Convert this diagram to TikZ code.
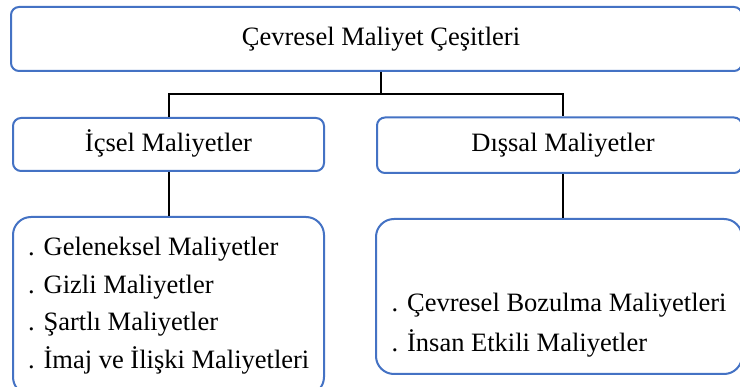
\documentclass[tikz,border=0pt]{standalone}
\usepackage{fontspec}
\setmainfont{Liberation Serif}
\definecolor{boxblue}{HTML}{4472C4}
\tikzset{
  box/.style={draw=boxblue, line width=2pt, fill=white, rounded corners=#1, inner sep=0pt},
  box/.default=8pt,
  txt/.style={inner sep=0pt, font=\fontsize{26.5}{32}\selectfont},
  lst/.style={inner sep=0pt, align=left, anchor=base west},
  conn/.style={draw=black, line width=2pt}
}
\begin{document}
\begin{tikzpicture}[x=1pt,y=1pt]
\clip (0,0) rectangle (740,-387);
\fill[white] (0,0) rectangle (740,-387);
% boxes
\node[box, minimum width=731pt, minimum height=64pt] (top) at (376.5,-39) {};
\node[box, minimum width=311pt, minimum height=53pt] (ic) at (168.5,-144.5) {};
\node[box, minimum width=365pt, minimum height=55.5pt] (ds) at (559.5,-145.25) {};
\node[box=18pt, minimum width=311pt, minimum height=178pt] (bl) at (168.5,-306) {};
\node[box=18pt, minimum width=366pt, minimum height=155pt] (br) at (559,-296.5) {};
% texts
\node[txt] (toptext) at (381,-39) {Çevresel Maliyet Çeşitleri};
\node[txt, anchor=base] (ictext) at (168.5,-151.7) {İçsel Maliyetler};
\node[txt, anchor=base] (dstext) at (563,-151.7) {Dışsal Maliyetler};
\node[txt, lst, font=\fontsize{26.5}{37.6}\selectfont] (bltext) at (28,-368.5)
  {. Geleneksel Maliyetler\\. Gizli Maliyetler\\. Şartlı Maliyetler\\. İmaj ve İlişki Maliyetleri};
\node[txt, lst, font=\fontsize{26.5}{40}\selectfont] (brtext) at (391.5,-351.7)
  {. Çevresel Bozulma Maliyetleri\\. İnsan Etkili Maliyetler};
% connectors
\coordinate (j) at (381,-94.5);
\draw[conn] (top.south -| j) -- (j);
\draw[conn] (ic.north) |- (j) -| (ds.north -| dstext);
\draw[conn] (ic.south) -- (bl.north);
\draw[conn] (ds.south -| dstext) -- (br.north -| dstext);
\end{tikzpicture}
\end{document}
